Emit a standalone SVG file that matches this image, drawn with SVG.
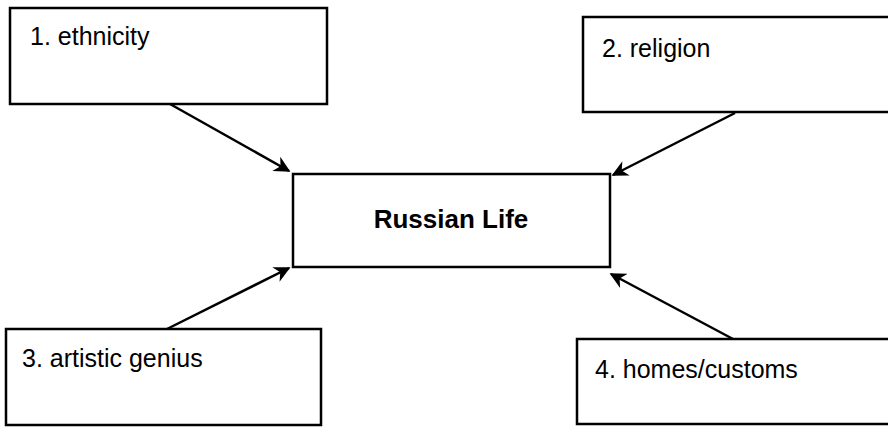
<svg xmlns="http://www.w3.org/2000/svg" width="888" height="433" viewBox="0 0 888 433">
<style>
.box{fill:#fff;stroke:#000;stroke-width:2.5}
.lbl{font-family:"Liberation Sans",Arial,sans-serif;font-size:25px;fill:#000}
.title{font-family:"Liberation Sans",Arial,sans-serif;font-size:26px;font-weight:bold;fill:#000}
.conn{stroke:#000;stroke-width:2.5;fill:none}
</style>
<defs>
<marker id="ah" viewBox="0 0 10 10" refX="9" refY="5" markerWidth="8" markerHeight="6.5" markerUnits="strokeWidth" orient="auto">
<path d="M0,0 L10,5 L0,10 L3,5 z" fill="#000"/>
</marker>
</defs>
<rect width="888" height="433" fill="#fff"/>
<g id="connectors">
<line class="conn" x1="170" y1="104" x2="289" y2="171" marker-end="url(#ah)"/>
<line class="conn" x1="735" y1="113" x2="613" y2="175" marker-end="url(#ah)"/>
<line class="conn" x1="167" y1="329" x2="289" y2="268" marker-end="url(#ah)"/>
<line class="conn" x1="733" y1="339" x2="611" y2="274" marker-end="url(#ah)"/>
</g>
<g id="node-ethnicity">
<rect class="box" x="10" y="8" width="317" height="96"/>
<text class="lbl" x="30" y="45">1. ethnicity</text>
</g>
<g id="node-religion">
<rect class="box" x="583" y="17" width="310" height="95"/>
<text class="lbl" x="602" y="57">2. religion</text>
</g>
<g id="node-russian-life">
<rect class="box" x="293" y="174" width="317" height="93"/>
<text class="title" x="451" y="228" text-anchor="middle">Russian Life</text>
</g>
<g id="node-artistic">
<rect class="box" x="6" y="329" width="315" height="96"/>
<text class="lbl" x="22" y="367">3. artistic genius</text>
</g>
<g id="node-homes">
<rect class="box" x="577" y="339" width="316" height="85"/>
<text class="lbl" x="595" y="378">4. homes/customs</text>
</g>
</svg>
